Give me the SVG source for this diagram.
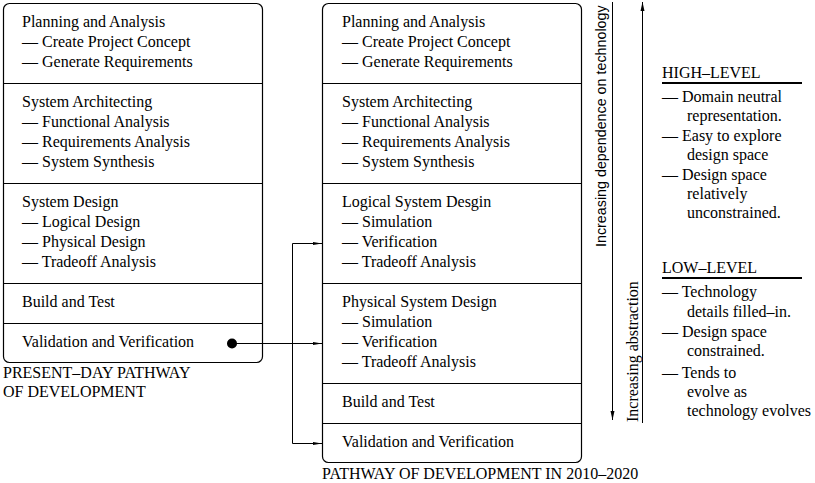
<svg xmlns="http://www.w3.org/2000/svg" width="815" height="483" viewBox="0 0 815 483">
<style>
text{font-family:"Liberation Serif","Times New Roman",serif;font-size:16px;fill:#000}
.box{fill:none;stroke:#000;stroke-width:1.2}
.div{stroke:#000;stroke-width:1.2}
.ln{fill:none;stroke:#000;stroke-width:1}
.rule{stroke:#000;stroke-width:2}
.sans{font-family:"Liberation Sans",Arial,sans-serif;font-size:14.3px}
</style>
<defs>
<marker id="tip" markerWidth="9" markerHeight="4" refX="9" refY="2" orient="auto" markerUnits="userSpaceOnUse">
<path d="M0,0.5 L9,2 L0,3.5 Z" fill="#000"/>
</marker>
<marker id="ah" markerWidth="9" markerHeight="6" refX="9" refY="3" orient="auto" markerUnits="userSpaceOnUse">
<path d="M0,1 L9,3 L0,5 Z" fill="#000"/>
</marker>
</defs>

<g id="present-day">
<rect class="box" x="3.5" y="3.5" width="259" height="359" rx="6"/>
<line class="div" x1="3.5" y1="83.5" x2="262.5" y2="83.5"/>
<line class="div" x1="3.5" y1="183.5" x2="262.5" y2="183.5"/>
<line class="div" x1="3.5" y1="283.5" x2="262.5" y2="283.5"/>
<line class="div" x1="3.5" y1="323.5" x2="262.5" y2="323.5"/>
<text x="22" y="27">Planning and Analysis</text>
<text x="22" y="47">— Create Project Concept</text>
<text x="22" y="67">— Generate Requirements</text>
<text x="22" y="107">System Architecting</text>
<text x="22" y="127">— Functional Analysis</text>
<text x="22" y="147">— Requirements Analysis</text>
<text x="22" y="167">— System Synthesis</text>
<text x="22" y="207">System Design</text>
<text x="22" y="227">— Logical Design</text>
<text x="22" y="247">— Physical Design</text>
<text x="22" y="267">— Tradeoff Analysis</text>
<text x="22" y="307">Build and Test</text>
<text x="22" y="347">Validation and Verification</text>
<text x="3" y="378">PRESENT–DAY PATHWAY</text>
<text x="3" y="397">OF DEVELOPMENT</text>
</g>

<g id="future">
<rect class="box" x="322.5" y="3.5" width="259" height="459" rx="6"/>
<line class="div" x1="322.5" y1="83.5" x2="581.5" y2="83.5"/>
<line class="div" x1="322.5" y1="183.5" x2="581.5" y2="183.5"/>
<line class="div" x1="322.5" y1="283.5" x2="581.5" y2="283.5"/>
<line class="div" x1="322.5" y1="383.5" x2="581.5" y2="383.5"/>
<line class="div" x1="322.5" y1="423.5" x2="581.5" y2="423.5"/>
<text x="342" y="27">Planning and Analysis</text>
<text x="342" y="47">— Create Project Concept</text>
<text x="342" y="67">— Generate Requirements</text>
<text x="342" y="107">System Architecting</text>
<text x="342" y="127">— Functional Analysis</text>
<text x="342" y="147">— Requirements Analysis</text>
<text x="342" y="167">— System Synthesis</text>
<text x="342" y="207">Logical System Desgin</text>
<text x="342" y="227">— Simulation</text>
<text x="342" y="247">— Verification</text>
<text x="342" y="267">— Tradeoff Analysis</text>
<text x="342" y="307">Physical System Design</text>
<text x="342" y="327">— Simulation</text>
<text x="342" y="347">— Verification</text>
<text x="342" y="367">— Tradeoff Analysis</text>
<text x="342" y="407">Build and Test</text>
<text x="342" y="447">Validation and Verification</text>
<text x="322" y="479">PATHWAY OF DEVELOPMENT IN 2010–2020</text>
</g>

<g id="connectors">
<circle cx="232" cy="343.5" r="5" fill="#000"/>
<line class="ln" x1="232" y1="343.5" x2="322" y2="343.5" marker-end="url(#tip)"/>
<line class="ln" x1="292.5" y1="243.5" x2="292.5" y2="443.5"/>
<line class="ln" x1="292.5" y1="243.5" x2="322" y2="243.5" marker-end="url(#tip)"/>
<line class="ln" x1="292.5" y1="443.5" x2="322" y2="443.5" marker-end="url(#tip)"/>
<line class="ln" x1="612.5" y1="2" x2="612.5" y2="420" marker-end="url(#ah)"/>
<line class="ln" x1="642.5" y1="423" x2="642.5" y2="2" marker-end="url(#ah)"/>
</g>

<g id="axis-labels">
<text class="sans" transform="translate(606,247) rotate(-90)">Increasing dependence on technology</text>
<text transform="translate(638,422) rotate(-90)">Increasing abstraction</text>
</g>

<g id="high-level">
<text x="662" y="78">HIGH–LEVEL</text>
<line class="rule" x1="662" y1="83" x2="802" y2="83"/>
<text x="662" y="102">— Domain neutral</text>
<text x="687" y="121">representation.</text>
<text x="662" y="141">— Easy to explore</text>
<text x="687" y="160">design space</text>
<text x="662" y="180">— Design space</text>
<text x="687" y="199">relatively</text>
<text x="687" y="218">unconstrained.</text>
</g>

<g id="low-level">
<text x="662" y="273">LOW–LEVEL</text>
<line class="rule" x1="662" y1="278" x2="802" y2="278"/>
<text x="662" y="297">— Technology</text>
<text x="687" y="317">details filled–in.</text>
<text x="662" y="337">— Design space</text>
<text x="687" y="356">constrained.</text>
<text x="662" y="378">— Tends to</text>
<text x="687" y="397">evolve as</text>
<text x="687" y="416">technology evolves</text>
</g>
</svg>
